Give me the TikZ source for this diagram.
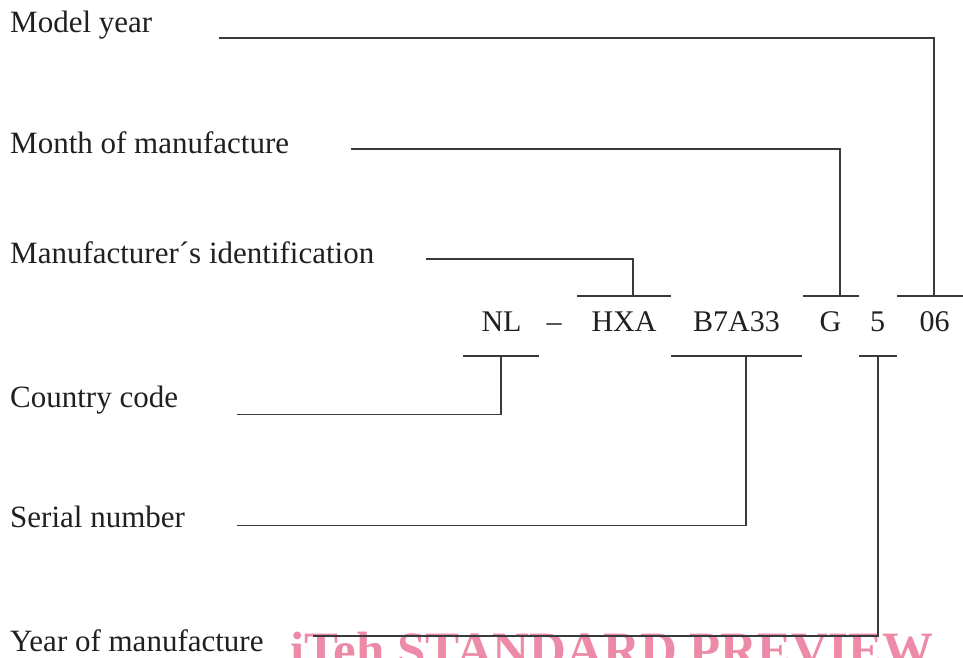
\documentclass[tikz,border=0pt]{standalone}
\usepackage{fontspec}
\setmainfont{Liberation Serif}
\definecolor{txt}{HTML}{231F20}
\definecolor{lnc}{HTML}{3A3A3A}
\definecolor{wm}{RGB}{236,138,168}
\begin{document}
\begin{tikzpicture}[x=1pt,y=-1pt,
  lbl/.style={anchor=base west,inner sep=0pt,text=txt,font=\fontsize{31}{36}\selectfont},
  code/.style={anchor=base,inner sep=0pt,text=txt,font=\fontsize{30}{36}\selectfont},
  ln/.style={draw=lnc,line width=1.3pt},
  wmark/.style={anchor=base west,inner sep=0pt,text=wm,font=\fontsize{51}{60}\selectfont\bfseries}]
\useasboundingbox (0,0) rectangle (963,657);
\clip (0,0) rectangle (963,657);
\fill[white] (0,0) rectangle (963,657);

% watermark
\node[wmark] (wmk) at (290,667) {iTeh STANDARD PREVIEW};

% labels
\node[lbl] (my) at (10,32) {Model year};
\node[lbl] (mm) at (10,153) {Month of manufacture};
\node[lbl] (mi) at (10,263) {Manufacturer\textasciiacute s identification};
\node[lbl] (cc) at (10,407) {Country code};
\node[lbl] (sn) at (10,527) {Serial number};
\node[lbl] (ym) at (10,651) {Year of manufacture};

% code row
\node[code] (nl) at (501.5,331) {NL};
\node[code] (dash) at (554,331) {--};
\node[code] (hxa) at (624,331) {HXA};
\node[code] (b7) at (736.5,331) {B7A33};
\node[code] (g) at (830.5,331) {G};
\node[code] (five) at (877.5,331) {5};
\node[code] (zs) at (934.5,331) {06};

% bars
\coordinate (hxaT) at (633,296);
\coordinate (gT) at (840,296);
\coordinate (zsT) at (934,296);
\coordinate (nlB) at (501,356);
\coordinate (b7B) at (746,356);
\coordinate (fiveB) at (878,356);
\draw[ln] (577,296) -- (671,296);
\draw[ln] (803,296) -- (859,296);
\draw[ln] (897,296) -- (963,296);
\draw[ln] (463,356) -- (539,356);
\draw[ln] (671,356) -- (802,356);
\draw[ln] (859,356) -- (897,356);

% connector starts
\coordinate (myS) at (219,38);
\coordinate (mmS) at (351,149);
\coordinate (miS) at (426,259);
\coordinate (ccS) at (237,414.5);
\coordinate (snS) at (237,525.5);
\coordinate (ymS) at (313,636);

\draw[ln] (myS) -| (zsT);
\draw[ln] (mmS) -| (gT);
\draw[ln] (miS) -| (hxaT);
\draw[ln] (ccS) -| (nlB);
\draw[ln] (snS) -| (b7B);
\draw[ln] (ymS) -| (fiveB);
\end{tikzpicture}
\end{document}
